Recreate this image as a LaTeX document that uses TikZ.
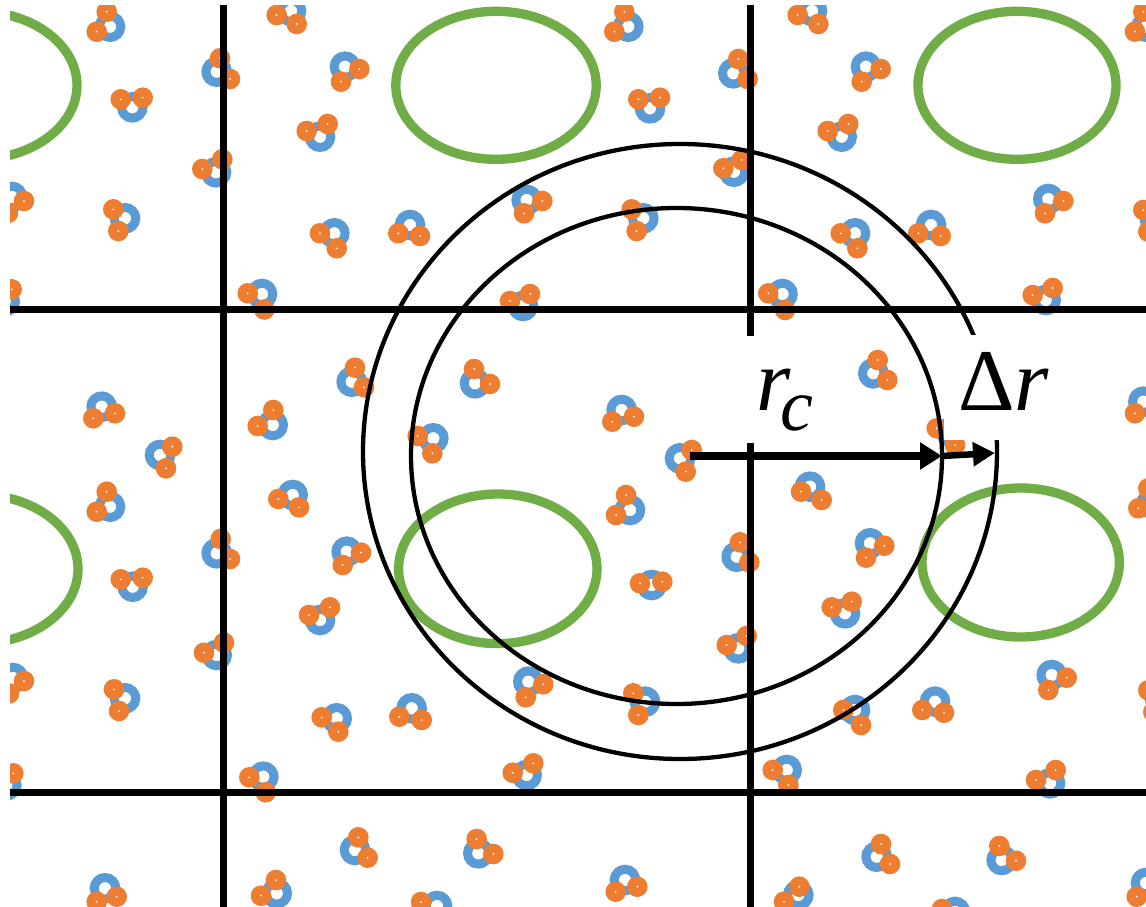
\documentclass[tikz,border=0pt]{standalone}
\usepackage{fontspec}
\setmainfont{Liberation Serif}
\usetikzlibrary{arrows.meta}

\definecolor{oxblue}{HTML}{5B9BD5}
\definecolor{hyorange}{HTML}{ED7D31}
\definecolor{cavgreen}{HTML}{70AD47}

\tikzset{
  cavity/.style={draw=cavgreen, line width=9.3pt},
  cellline/.style={draw=black, line width=7pt},
  shell/.style={draw=black, line width=4.3pt},
  oring/.style={draw=oxblue, line width=9pt},
  hdot/.style={fill=hyorange},
  maskbox/.style={fill=white, draw=none, inner sep=0pt},
  symb/.style={anchor=base west, inner sep=0pt, text=black},
  radarrow/.style={draw=black, line width=8pt, -{Triangle[length=22pt,width=26pt]}},
  deltaarrow/.style={draw=black, line width=6.5pt, -{Triangle[length=22pt,width=23pt]}},
}

\begin{document}
\begin{tikzpicture}[x=1pt, y=-1pt]
\useasboundingbox (0,0) rectangle (1146,907);
\fill[white] (0,0) rectangle (1146,907);
\begin{scope}
\clip (10,6) rectangle (1146,907);

% hydrophobic cavities
\draw[cavity] (-23,85.3) ellipse [x radius=100pt, y radius=74pt];
\draw[cavity] (496,85.3) ellipse [x radius=100.2pt, y radius=74pt];
\draw[cavity] (1017,85.3) ellipse [x radius=99pt, y radius=74pt];
\draw[cavity] (-22,569) ellipse [x radius=100pt, y radius=74.5pt];
\draw[cavity] (497.8,568.8) ellipse [x radius=99.2pt, y radius=74.8pt];
\draw[cavity] (1020.7,562.5) ellipse [x radius=98.7pt, y radius=74.5pt];

% water molecules: oxygen ring, then the two hydrogens
\foreach \ox/\oy/\hax/\hay/\hbx/\hby in {
  110/26.7/106.7/11.7/96.7/31.7,
  216.7/71.7/220/58.3/230/79,
  132.3/107.3/120.7/99.3/142.7/97.7,
  345/66.7/359.3/69/341/81.7,
  291/11/276.7/15/296.7/24,
  320/136.7/306.7/131/327.7/124,
  216/172.3/202.3/169/222.3/159.3,
  125/218.3/113.3/209.3/118.3/231,
  334.3/233.3/320/233.3/336.7/248.3,
  12/197/24/201/8/213,
  4.7/301.3/-8.3/296.3/11.7/289.3,
  262/294/247.7/293.3/264.3/309.5,
  628.3/26.7/624.3/11.7/614.3/31.7,
  733.3/73.3/738.3/59/747.7/79,
  650/108.3/638.3/99.3/660/97.7,
  734/171.7/723.3/168.3/741.7/160,
  526.7/200/542.3/201/524/213.3,
  410/225/398.3/233.3/420/236,
  643.3/218.3/631.7/209.3/636.7/231,
  523/306/510/301/530/294,
  812/11/797.7/15/818.3/24,
  866/66.7/880.7/69/861.7/81.7,
  841.7/136.7/827.7/131/848.3/124,
  1048.3/199/1063.3/201/1045/213.3,
  855/233.3/840.7/233.3/857.3/248.3,
  931/225/918.3/233.3/940.7/236,
  1146.6/26.7/1143.3/11.7/1135/31.7,
  1155/219/1143.3/210/1148.3/231.7,
  1045.7/300/1032.7/295/1052.7/288,
  782.5/294/768.3/293.3/785/310,
  101.7/406.7/93.3/418.3/115/413.3,
  160/455/172.3/446.7/166/468.3,
  110/506.7/106.7/491.7/96.7/511.7,
  216.7/553.3/220.7/539/230/559,
  132.7/586.7/120.7/579.3/142.7/577.7,
  351.7/381.7/355/367.7/364/387.3,
  272.7/425/257.7/426/273.3/410,
  292.7/495/278.3/499/299/507.3,
  346.7/551.7/361/552.7/342.7/565,
  475/383.3/474/369/490/384,
  433.3/438.3/417.7/436/432.3/453.3,
  621.7/410/612.3/421.7/634/416.7,
  680/458.3/691.7/450/685.7/471.7,
  630/510/626/495/616/515,
  736.7/556.7/740/542.3/749.3/562.3,
  651.7/585/640/583.3/662.3/581.7,
  873.3/373.3/877.7/360/887.3/380,
  810/486.7/801/491.7/821.7/500,
  870/543.3/884.3/545.7/866/557.7,
  951/432/936.7/428.3/955/445,
  1143.4/401.7/1135/413.3/1156.7/408.3,
  1151.6/503.3/1148.3/488.3/1138.3/508.3,
  845/613.3/831.7/607.3/851.7/601.7,
  216.7/655/204/652.7/224/642.7,
  125/698.3/114/689.3/119/711,
  336.7/718.3/321.7/717.3/338.3/731.7,
  320/620/309/615/330/607.3,
  263.3/776.7/249.3/777.3/265.7/792.3,
  355/850/358.3/837.3/367.7/857.7,
  276.7/893.3/276/880/261/895.7,
  105/888.3/116.7/896.7/96.7/901.7,
  13/678/24/681/9/693.5,
  6.3/785.3/-6.7/780.3/13.3/773.3,
  528.3/681.7/543.3/684.3/525.7/697.3,
  411.7/708.3/399.3/716.7/421.7/720,
  645/701.7/633.3/693.3/638.3/715,
  738.3/648.3/726.7/645/746.7/636,
  526.7/775/512.7/772.7/533.3/763.3,
  478.3/853.3/476.7/839/493.3/854,
  625/880/615.7/891.7/637.3/886.7,
  437/906/421/902/432/920,
  855/710/843.3/710/861/725,
  935/701.7/922.3/710/944/712.7,
  1051.7/675/1066.7/677.7/1048.3/690,
  786.7/770/772.7/770/788.3/785,
  1050/783.3/1036/780/1055.7/770,
  876.7/856.7/881/844/890/864,
  1001.7/860/999.3/846/1016/860.7,
  798.3/895/799.3/886.7/784/901.7,
  955/912/942/909/962/926,
  1146/883/1136.7/896.7/1160/890,
  1160/699/1148.3/690.3/1153.3/712} {
  \draw[oring] (\ox,\oy) circle [radius=10.8pt];
  \fill[hdot] (\hax,\hay) circle [radius=10.3pt];
  \fill[hdot] (\hbx,\hby) circle [radius=10.3pt];
  \fill[white] (\hax,\hay) circle [radius=1pt];
  \fill[white] (\hbx,\hby) circle [radius=1pt];
}

% periodic cell boundaries
\draw[cellline] (223,0) -- (223,907);
\draw[cellline] (750,0) -- (750,907);
\draw[cellline] (0,309.5) -- (1146,309.5);
\draw[cellline] (0,792.5) -- (1146,792.5);

% outer cutoff shell
\draw[shell] (680,451.5) ellipse [x radius=317pt, y radius=307.5pt];
\end{scope}

% labels on white backing
\node[maskbox, minimum width=87pt, minimum height=107pt] (rcbox) at (788.5,389.5) {};
\node[symb] (rc) at (756,410) {\fontsize{88}{88}\selectfont\itshape r\kern-10pt\raisebox{-20pt}{\fontsize{74}{74}\selectfont c}};
\node[maskbox, minimum width=116pt, minimum height=105pt] (drbox) at (1002,387.5) {};
\node[symb] (dr) at (958,410) {\fontsize{88}{88}\selectfont Δ\itshape r};

% inner cutoff sphere
\draw[shell] (676.5,456) ellipse [x radius=265.5pt, y radius=248pt];

% radius arrows
\coordinate (O) at (690,456);
\coordinate (A) at (942,456);
\coordinate (B) at (995,453);
\draw[radarrow] (O) -- (A);
\draw[deltaarrow] (A) -- (B);
\end{tikzpicture}
\end{document}
